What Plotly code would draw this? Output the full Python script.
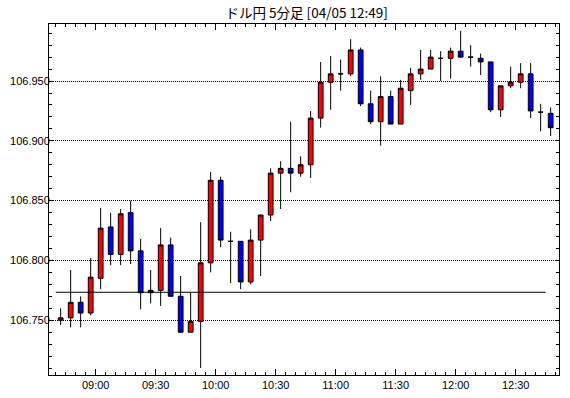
import plotly.graph_objects as go
import pandas as pd

title_text = "ドル円 5分足 [04/05 12:49]"
session_start = "2018-04-05 08:40"
bar_minutes = 5

opens  = [106.750, 106.752, 106.765, 106.756, 106.785, 106.828, 106.805, 106.840, 106.808, 106.773,
          106.775, 106.813, 106.770, 106.740, 106.749, 106.798, 106.867, 106.816, 106.816, 106.782,
          106.817, 106.838, 106.873, 106.877, 106.873, 106.880, 106.919, 106.949, 106.956, 106.956,
          106.976, 106.931, 106.916, 106.937, 106.914, 106.942, 106.956, 106.960, 106.969, 106.969,
          106.975, 106.970, 106.969, 106.966, 106.926, 106.946, 106.949, 106.956, 106.924, 106.923]
highs  = [106.760, 106.792, 106.770, 106.802, 106.844, 106.840, 106.843, 106.850, 106.818, 106.792,
          106.827, 106.819, 106.787, 106.773, 106.832, 106.874, 106.870, 106.824, 106.816, 106.826,
          106.838, 106.877, 106.883, 106.916, 106.887, 106.925, 106.966, 106.971, 106.968, 106.985,
          106.978, 106.942, 106.954, 106.942, 106.951, 106.961, 106.976, 106.976, 106.975, 106.978,
          106.992, 106.980, 106.973, 106.966, 106.946, 106.962, 106.965, 106.965, 106.931, 106.928]
lows   = [106.746, 106.744, 106.744, 106.754, 106.776, 106.796, 106.796, 106.797, 106.759, 106.764,
          106.762, 106.770, 106.740, 106.740, 106.710, 106.790, 106.811, 106.781, 106.776, 106.780,
          106.787, 106.833, 106.843, 106.857, 106.870, 106.869, 106.911, 106.926, 106.942, 106.954,
          106.929, 106.914, 106.896, 106.914, 106.914, 106.930, 106.951, 106.960, 106.950, 106.952,
          106.970, 106.962, 106.955, 106.924, 106.920, 106.944, 106.944, 106.919, 106.908, 106.904]
closes = [106.752, 106.765, 106.756, 106.786, 106.827, 106.805, 106.839, 106.808, 106.773, 106.775,
          106.813, 106.770, 106.740, 106.749, 106.798, 106.867, 106.817, 106.816, 106.782, 106.817,
          106.838, 106.873, 106.877, 106.873, 106.880, 106.919, 106.949, 106.956, 106.956, 106.976,
          106.931, 106.916, 106.937, 106.914, 106.944, 106.956, 106.960, 106.970, 106.969, 106.975,
          106.970, 106.970, 106.966, 106.926, 106.946, 106.949, 106.956, 106.925, 106.924, 106.911]

ref_level = 106.7734
ref_times = ["2018-04-05 08:40", "2018-04-05 12:45"]

x_range = ["2018-04-05 08:36:40", "2018-04-05 12:51:40"]
y_range = [106.7042, 106.9977]
y_grid_step = 0.05
y_minor_step = 0.01

times = pd.date_range(session_start, periods=len(opens), freq=f"{bar_minutes}min")

FONT = "Liberation Sans, Arial, sans-serif"

fig = go.Figure()
fig.add_trace(go.Candlestick(
    x=times, open=opens, high=highs, low=lows, close=closes,
    xperiod=bar_minutes * 60 * 1000, xperiodalignment="middle",
    increasing=dict(line=dict(color="black", width=1), fillcolor="#ff0000"),
    decreasing=dict(line=dict(color="black", width=1), fillcolor="#0000ff"),
    whiskerwidth=0, hoverinfo="skip", showlegend=False,
))
fig.add_trace(go.Scatter(
    x=ref_times, y=[ref_level, ref_level], mode="lines",
    line=dict(color="black", width=1.2), hoverinfo="skip", showlegend=False,
))

fig.update_layout(
    width=570, height=398,
    margin=dict(l=49, r=11, t=24, b=23),
    paper_bgcolor="white", plot_bgcolor="white",
    font=dict(family=FONT, size=11, color="black"),
    title=dict(text=title_text, x=0.538, xanchor="center", y=0.967, yanchor="middle",
               font=dict(family="Noto Sans CJK JP", size=13.5, color="black")),
    boxgap=0.32,
    showlegend=False,
    hovermode=False,
)
fig.update_xaxes(
    type="date", range=x_range, rangeslider_visible=False, automargin=False,
    showgrid=False, zeroline=False,
    showline=True, linecolor="black", linewidth=1, mirror="ticks",
    ticks="inside", ticklen=6, tickcolor="black", tickwidth=1,
    dtick=30 * 60 * 1000, tick0="2018-04-05 09:00", tickformat="%H:%M",
    tickfont=dict(family=FONT, size=11),
    minor=dict(ticks="inside", ticklen=3, dtick=bar_minutes * 60 * 1000,
               tick0="2018-04-05 09:00", tickcolor="black", showgrid=False),
)
fig.update_yaxes(
    range=y_range, automargin=False,
    showgrid=True, gridcolor="black", gridwidth=1, griddash="1px,1px",
    zeroline=False,
    showline=True, linecolor="black", linewidth=1, mirror="ticks",
    ticks="inside", ticklen=4, tickcolor="black", tickwidth=1,
    dtick=y_grid_step, tick0=106.75, tickformat=".3f",
    tickfont=dict(family=FONT, size=11), ticklabelstandoff=-4,
    minor=dict(ticks="inside", ticklen=3, dtick=y_minor_step, tick0=106.75,
               tickcolor="black", showgrid=False),
)

# remove the browser's default 8px page margin so the figure fills the window
fig.write_html("out.html", config={"displayModeBar": False},
               post_script="document.body.style.margin='0';")
